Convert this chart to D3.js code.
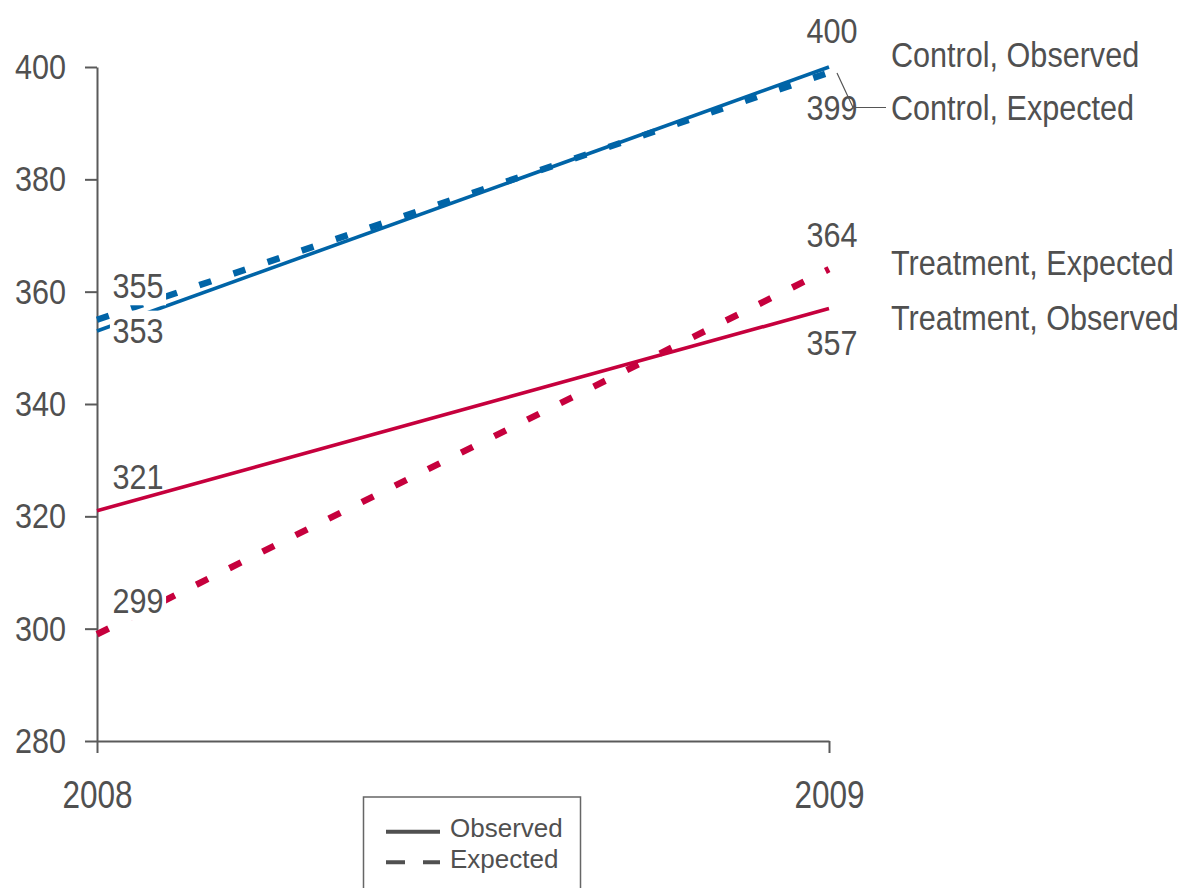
<!DOCTYPE html>
<html>
<head>
<meta charset="utf-8">
<script src="https://cdn.jsdelivr.net/npm/d3@7"></script>
<style>
  html, body { margin: 0; padding: 0; background: #fff; }
  svg { display: block; }
  text { font-family: "Liberation Sans", Arial, sans-serif; fill: #505050; }
</style>
</head>
<body>
<svg id="chart" width="1184" height="888"></svg>
<script>
// ---- data ----
const years = [2008, 2009];
const controlObserved = [353, 400];
const controlExpected = [355, 399];
const treatmentObserved = [321, 357];
const treatmentExpected = [299, 364];
const yTicks = [280, 300, 320, 340, 360, 380, 400];
const seriesNames = ["Control, Observed", "Control, Expected", "Treatment, Observed", "Treatment, Expected"];
const legendItems = ["Observed", "Expected"];

// ---- layout ----
const svg = d3.select("#chart");
const x = d3.scaleLinear().domain([2008, 2009]).range([97, 829]);
const y = d3.scaleLinear().domain([280, 400]).range([741, 67]);
const BLUE = "#0064A7", RED = "#C6003D", AXIS = "#5a5a5a", TEXT = "#505050";
const FS = 36, NARROW = 0.85;

const series = [
  { name: seriesNames[0], values: controlObserved, color: BLUE, dashed: false,
    startDy: 12, endDy: -24, nameDy: 0, startMask: true },
  { name: seriesNames[1], values: controlExpected, color: BLUE, dashed: true,
    startDy: -22, endDy: 47.5, nameDy: 47.5, startMask: true },
  { name: seriesNames[2], values: treatmentObserved, color: RED, dashed: false,
    startDy: -22, endDy: 46.5, nameDy: 21.5, startMask: false },
  { name: seriesNames[3], values: treatmentExpected, color: RED, dashed: true,
    startDy: -21, endDy: -22, nameDy: 6, startMask: true }
];

// condensed text: move x/y into a transform with horizontal squeeze
function narrow(sel, k = NARROW) {
  sel.each(function () {
    const t = d3.select(this);
    const tx = +t.attr("x") || 0, ty = +t.attr("y") || 0;
    t.attr("x", 0).attr("y", 0)
     .attr("transform", `translate(${tx},${ty}) scale(${k},1)`);
  });
}

// axes
const yAxis = d3.axisLeft(y).tickValues(yTicks).tickSize(12).tickSizeOuter(0).tickPadding(19);
const gy = svg.append("g").attr("transform", "translate(97,0)").call(yAxis);
gy.select(".domain").attr("stroke", AXIS).attr("stroke-width", 2);
gy.selectAll(".tick line").attr("stroke", AXIS).attr("stroke-width", 2);
gy.selectAll(".tick text").attr("font-size", FS).attr("fill", TEXT)
  .attr("font-family", '"Liberation Sans", Arial, sans-serif').call(narrow);

const xAxis = d3.axisBottom(x).tickValues(years).tickFormat(d3.format("d")).tickSize(12).tickSizeOuter(0).tickPadding(28);
const gx = svg.append("g").attr("transform", "translate(0,741)").call(xAxis);
gx.select(".domain").attr("stroke", AXIS).attr("stroke-width", 2);
gx.selectAll(".tick line").attr("stroke", AXIS).attr("stroke-width", 2);
gx.selectAll(".tick text").attr("font-size", 38).attr("fill", TEXT)
  .attr("font-family", '"Liberation Sans", Arial, sans-serif').call(narrow, 0.83);

// lines
const line = d3.line().x((d, i) => x(years[i])).y(d => y(d));
svg.append("g").selectAll("path").data(series).join("path")
  .attr("d", d => line(d.values))
  .attr("fill", "none")
  .attr("stroke", d => d.color)
  .attr("stroke-width", d => d.dashed ? 6.5 : 3.6)
  .attr("stroke-dasharray", d => d.dashed ? (d.color === BLUE ? "12.5,23.5" : "13,24") : null);

// data labels (some with white backgrounds that hide the lines under them)
const labels = [];
series.forEach(s => {
  labels.push({ text: String(s.values[0]), x: x(years[0]) + 41, y: y(s.values[0]) + s.startDy, mask: s.startMask });
  labels.push({ text: String(s.values[1]), x: x(years[1]) + 3, y: y(s.values[1]) + s.endDy, mask: false });
});
const lg = svg.append("g");
labels.forEach(l => {
  const g = lg.append("g").attr("transform", `translate(${l.x},${l.y}) scale(${NARROW},1)`);
  const rect = g.append("rect").attr("fill", "#fff");
  const t = g.append("text").attr("x", 0).attr("y", 0)
    .attr("text-anchor", "middle").attr("font-size", FS).text(l.text);
  if (l.mask) {
    const bb = t.node().getBBox();
    rect.attr("x", bb.x - 3).attr("y", bb.y).attr("width", bb.width + 6).attr("height", bb.height);
  } else {
    rect.remove();
  }
});

// series name labels
svg.append("g").selectAll("text").data(series).join("text")
  .attr("x", 891)
  .attr("y", d => y(d.values[1]) + d.nameDy)
  .attr("font-size", FS)
  .text(d => d.name)
  .call(narrow);

// leader line for "Control, Expected"
svg.append("polyline")
  .attr("points", [[837, 73], [853, 107.5], [886, 107.5]].map(p => p.join(",")).join(" "))
  .attr("fill", "none").attr("stroke", "#555").attr("stroke-width", 1.2);

// legend
const leg = svg.append("g");
leg.append("rect").attr("x", 363.5).attr("y", 797).attr("width", 217).attr("height", 120)
  .attr("fill", "#fff").attr("stroke", "#666").attr("stroke-width", 1.5);
legendItems.forEach((name, i) => {
  const ly = 831.7 + i * 30.6;
  leg.append("line").attr("x1", 386).attr("x2", 440).attr("y1", ly).attr("y2", ly)
    .attr("stroke", TEXT).attr("stroke-width", 4)
    .attr("stroke-dasharray", i === 1 ? "19,18" : null);
  leg.append("text").attr("x", 450).attr("y", ly + 5.5).attr("font-size", 26).text(name);
});
</script>
</body>
</html>
